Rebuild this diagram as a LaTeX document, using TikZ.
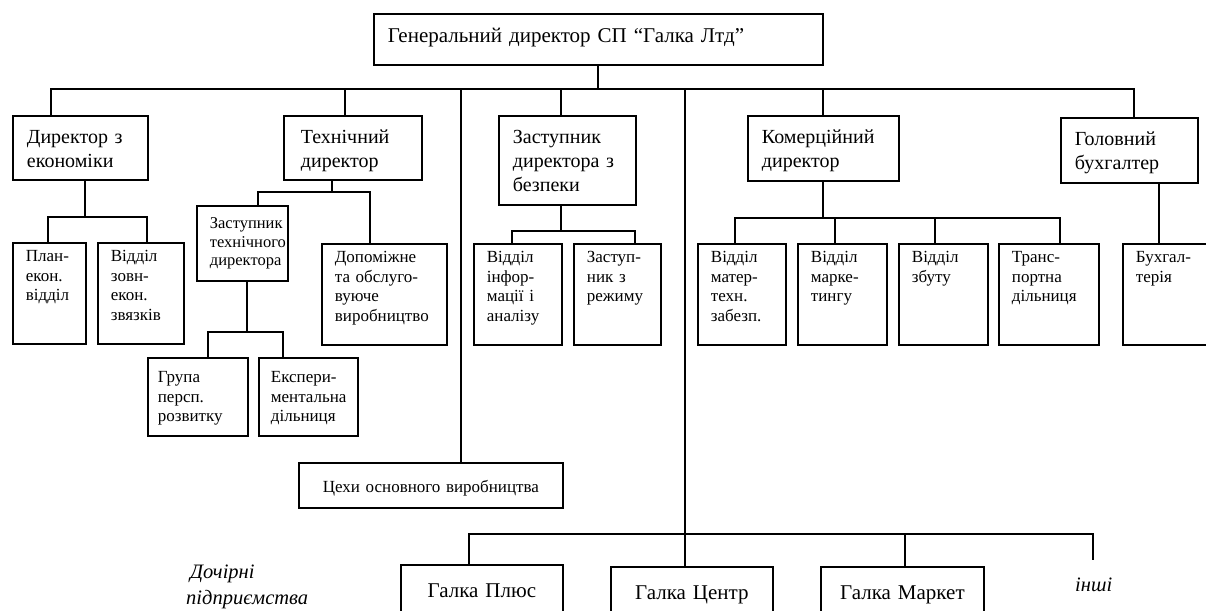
\documentclass[tikz,border=0pt]{standalone}
\usepackage{fontspec}
\setmainfont{Liberation Serif}
\begin{document}
\begin{tikzpicture}[x=1pt,y=-1pt,
  link/.style={line width=1.8pt},
  head/.style={draw, line width=1.8pt, anchor=north west, align=left, inner ysep=0pt, inner xsep=14pt, font=\fontsize{20}{24}\selectfont, text height=28pt},
  dept/.style={draw, line width=1.8pt, anchor=north west, align=left, inner ysep=0pt, inner xsep=13pt, font=\fontsize{17}{19.5}\selectfont, text height=19pt, text depth=82pt},
  firm/.style={draw, line width=1.8pt, anchor=north west, align=center, inner sep=0pt, font=\fontsize{21}{24}\selectfont, text height=33pt, text depth=60pt},
  note/.style={font=\fontsize{20.5}{26}\selectfont\itshape, inner sep=0pt}]
\useasboundingbox (0,0) rectangle (1206,610);
\clip (0,0) rectangle (1206,610);
% top and directors
\node[head, font=\fontsize{21}{24}\selectfont, text width=421pt, text height=29pt, text depth=22pt] (gd) at (373,13) {Генеральний директор СП “Галка Лтд”};
\node[head, text width=107pt, text depth=36pt] (econ) at (12,115) {Директор з\\економіки};
\node[head, inner xsep=17pt, text width=104pt, text depth=36pt] (tech) at (283,115) {Технічний\\директор};
\node[head, text width=109pt, text depth=61pt] (bezp) at (498,115) {Заступник\\директора з\\безпеки};
\node[head, text width=123pt, text depth=37pt] (kom) at (747,115) {Комерційний\\директор};
\node[head, text width=109pt, text depth=37pt] (holov) at (1060,117) {Головний\\бухгалтер};
% departments
\node[dept, text width=47pt] (plan) at (12,242) {План-\\екон.\\відділ};
\node[dept, text width=60pt] (zovn) at (97,242) {Відділ\\зовн-\\екон.\\звязків};
\node[dept, font=\fontsize{16.5}{18.5}\selectfont, text width=65pt, text height=23pt, text depth=52pt] (zast) at (196,205) {Заступник\\технічного\\директора};
\node[dept, text width=99pt] (dop) at (321,243) {Допоміжне\\та обслуго-\\вуюче\\виробництво};
\node[dept, inner xsep=10pt, text width=80pt, text height=25pt, text depth=53pt] (grupa) at (147,357) {Група\\персп.\\розвитку};
\node[dept, inner xsep=12pt, text width=75pt, text height=25pt, text depth=53pt] (eksp) at (258,357) {Експери-\\ментальна\\дільниця};
\node[dept, text width=62pt] (inf) at (473,243) {Відділ\\інфор-\\мації і\\аналізу};
\node[dept, text width=61pt] (rez) at (573,243) {Заступ-\\ник з\\режиму};
\node[dept, text width=62pt] (mat) at (697,243) {Відділ\\матер-\\техн.\\забезп.};
\node[dept, text width=63pt] (mark) at (797,243) {Відділ\\марке-\\тингу};
\node[dept, text width=63pt] (zbut) at (898,243) {Відділ\\збуту};
\node[dept, text width=74pt] (trans) at (998,243) {Транс-\\портна\\дільниця};
\node[dept, text width=74pt] (buh) at (1122,243) {Бухгал-\\терія};
\node[dept, align=center, inner sep=0pt, text width=264pt, text height=30pt, text depth=15pt] (ceh) at (298,462) {Цехи основного виробництва};
% subsidiaries
\node[firm, text width=162pt] (plus) at (400,564) {Галка Плюс};
\node[firm, text width=162pt] (centr) at (610,566) {Галка Центр};
\node[firm, text width=163pt] (market) at (820,566) {Галка Маркет};
\node[note, anchor=north west, align=left, text width=140pt, text height=18pt] (child) at (186,560) {\hspace*{4pt}Дочірні\\підприємства};
\node[note, anchor=base west] (inshi) at (1075,591) {інші};
% junctions
\coordinate (a1) at (51,89);
\coordinate (a2) at (345,89);
\coordinate (a3) at (461,89);
\coordinate (a4) at (561,89);
\coordinate (a5) at (598,89);
\coordinate (a6) at (685,89);
\coordinate (a7) at (823,89);
\coordinate (a8) at (1134,89);
\coordinate (e0) at (85,217);
\coordinate (e1) at (48,217);
\coordinate (e2) at (147,217);
\coordinate (t0) at (332,192);
\coordinate (t1) at (258,192);
\coordinate (t2) at (370,192);
\coordinate (z0) at (247,332);
\coordinate (z1) at (208,332);
\coordinate (z2) at (283,332);
\coordinate (s0) at (561,231);
\coordinate (s1) at (512,231);
\coordinate (s2) at (635,231);
\coordinate (k0) at (823,218);
\coordinate (k1) at (735,218);
\coordinate (k2) at (835,218);
\coordinate (k3) at (935,218);
\coordinate (k4) at (1060,218);
\coordinate (h0) at (1159,200);
\coordinate (d1) at (469,534);
\coordinate (d2) at (685,534);
\coordinate (d3) at (905,534);
\coordinate (d4) at (1093,534);
\coordinate (d5) at (1093,560);
% connectors
\draw[link] (a5 |- gd.south) -- (a5);
\draw[link] (a1 |- econ.north) -- (a1) -- (a8) -- (a8 |- holov.north);
\draw[link] (a2) -- (a2 |- tech.north);
\draw[link] (a3) -- (a3 |- ceh.north);
\draw[link] (a4) -- (a4 |- bezp.north);
\draw[link] (a6) -- (a6 |- centr.north);
\draw[link] (a7) -- (a7 |- kom.north);
\draw[link] (e0 |- econ.south) -- (e0);
\draw[link] (e1 |- plan.north) -- (e1) -- (e2) -- (e2 |- zovn.north);
\draw[link] (t0 |- tech.south) -- (t0);
\draw[link] (t1 |- zast.north) -- (t1) -- (t2) -- (t2 |- dop.north);
\draw[link] (z0 |- zast.south) -- (z0);
\draw[link] (z1 |- grupa.north) -- (z1) -- (z2) -- (z2 |- eksp.north);
\draw[link] (s0 |- bezp.south) -- (s0);
\draw[link] (s1 |- inf.north) -- (s1) -- (s2) -- (s2 |- rez.north);
\draw[link] (k0 |- kom.south) -- (k0);
\draw[link] (k1 |- mat.north) -- (k1) -- (k4) -- (k4 |- trans.north);
\draw[link] (k2) -- (k2 |- mark.north);
\draw[link] (k3) -- (k3 |- zbut.north);
\draw[link] (h0 |- holov.south) -- (h0 |- buh.north);
\draw[link] (d1 |- plus.north) -- (d1) -- (d4) -- (d5);
\draw[link] (d3) -- (d3 |- market.north);
\end{tikzpicture}
\end{document}
